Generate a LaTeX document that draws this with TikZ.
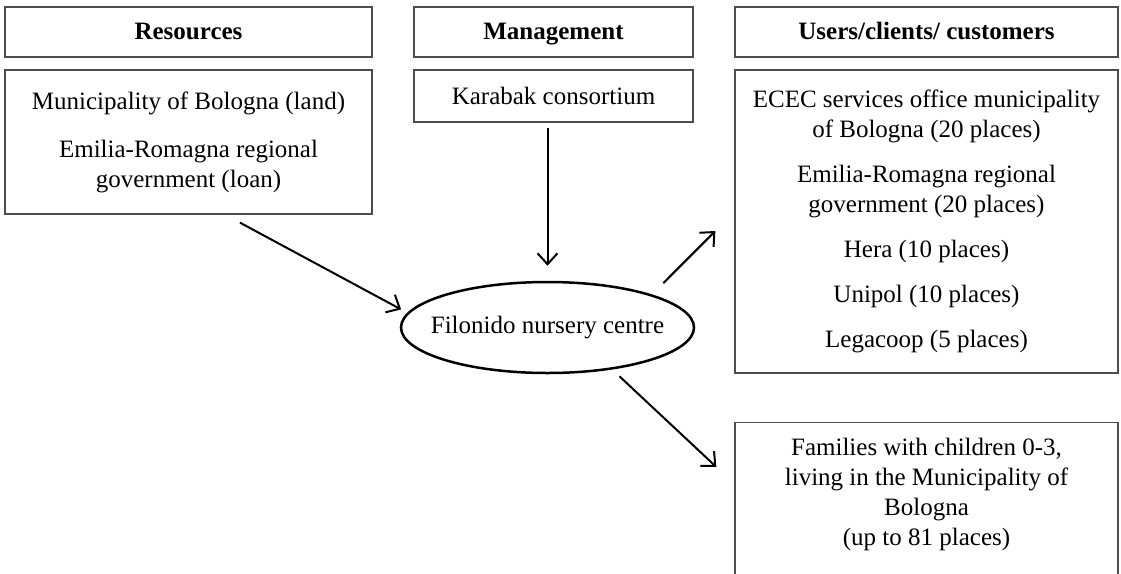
\documentclass[tikz,border=0pt]{standalone}
\usepackage{fontspec}
\setmainfont{Liberation Serif}
\usetikzlibrary{positioning}
\usetikzlibrary{calc}
\usetikzlibrary{shapes}
\usetikzlibrary{arrows.meta}

\begin{document}
\begin{tikzpicture}[x=1pt,y=-1pt,
  every node/.style={font=\fontsize{25}{30}\selectfont,align=center},
  hdr/.style={draw=black!70,line width=1.3pt,minimum height=50,text height=20,text depth=6,
    font=\fontsize{25}{30}\selectfont\bfseries},
  box/.style={draw=black!70,line width=1.3pt},
  arr/.style={line width=2pt,-{Straight Barb[length=11pt,width=20pt]}}]

\clip (0,0) rectangle (1121,573);

% three columns
\path (188.5,32) node (Res) [hdr,minimum width=367] {Resources}
      + (0,110) node (ResIn) [box,minimum width=367,minimum height=144]
        {Municipality of Bologna (land)\\[18pt] Emilia-Romagna regional\\ government (loan)};

\path (553.5,32) node (Mgmt) [hdr,minimum width=279] {Management}
      + (0,64) node (Kar) [box,minimum width=279,minimum height=52] {Karabak consortium};

\path (926.5,32) node (Usr) [hdr,minimum width=383] {Users/clients/ customers}
      + (0,189.5) node (UsrIn) [box,minimum width=383,minimum height=303]
        {ECEC services office municipality\\ of Bologna (20 places)\\[15pt]
         Emilia-Romagna regional\\ government (20 places)\\[15pt]
         Hera (10 places)\\[15pt] Unipol (10 places)\\[15pt] Legacoop (5 places)};

\path (547.5,327.5) node (Fil) [ellipse,draw,line width=2.5pt,inner sep=0,
        minimum width=293,minimum height=91] {\makebox[150pt]{Filonido nursery centre}}
      (926.5,422) node (Fam) [box,anchor=north,minimum width=383,inner ysep=15]
        {Families with children 0-3,\\ living in the Municipality of\\ Bologna\\
         (up to 81 places)\rule[-80pt]{0pt}{80pt}};

% arrows in and out of the centre
\path
  ([xshift=51.5,yshift=-8]ResIn.south) edge [arr,shorten >=7] (Fil.174)
  (Kar.south -| Fil.north) edge [arr,shorten <=5,shorten >=15] (Fil.north)
  (Fil.north east) edge [arr,shorten <=16] ([xshift=-19,yshift=-9.5]UsrIn.west)
  (Fil.-33) edge [arr,shorten <=10] ([xshift=-18,yshift=-45]Fam.north west);

\end{tikzpicture}
\end{document}
